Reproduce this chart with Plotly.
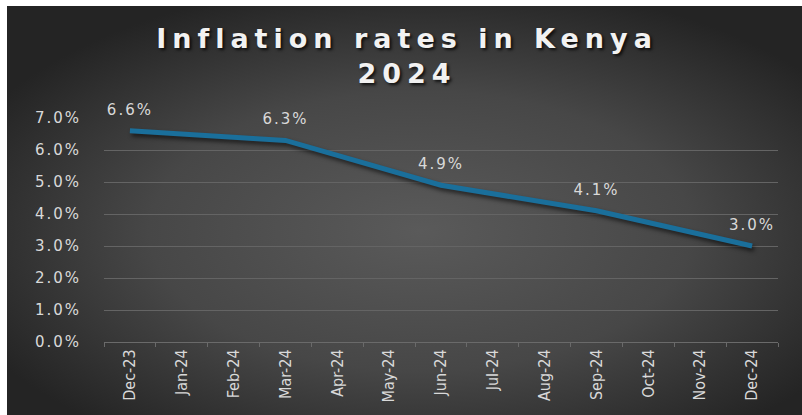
import base64
import plotly.graph_objects as go

# Monthly headline inflation (%), reported at quarterly points
months = ["Dec-23", "Jan-24", "Feb-24", "Mar-24", "Apr-24", "May-24", "Jun-24",
          "Jul-24", "Aug-24", "Sep-24", "Oct-24", "Nov-24", "Dec-24"]
inflation = [6.6, None, None, 6.3, None, None, 4.9, None, None, 4.1, None, None, 3.0]
y_ticks = [0, 1, 2, 3, 4, 5, 6, 7]

W, H = 802, 415
ML, MR, MT, MB = 104, 24, 118, 73
plot_w = W - ML - MR
plot_h = H - MT - MB

# dark radial backdrop for the chart area
svg = (
    '<svg xmlns="http://www.w3.org/2000/svg" width="795" height="409">'
    '<defs><radialGradient id="g" cx="52%" cy="55%" r="62%">'
    '<stop offset="0" stop-color="#5a5a5a"/>'
    '<stop offset="0.55" stop-color="#474747"/>'
    '<stop offset="1" stop-color="#242424"/>'
    '</radialGradient></defs>'
    '<rect width="795" height="409" fill="url(#g)"/></svg>'
)
bg_uri = "data:image/svg+xml;base64," + base64.b64encode(svg.encode()).decode()

labels = [f"{v:.1f}%" if v is not None else "" for v in inflation]

fig = go.Figure(
    go.Scatter(
        x=months,
        y=inflation,
        mode="lines+markers+text",
        connectgaps=True,
        line=dict(color="#1a6f9b", width=5),
        marker=dict(size=18, opacity=0, color="#1a6f9b"),
        text=labels,
        textposition="top center",
        textfont=dict(family="DejaVu Sans", size=15, color="#d9d9d9"),
        hoverinfo="skip",
        cliponaxis=False,
    )
)

fig.update_layout(
    width=W,
    height=H,
    margin=dict(l=ML, r=MR, t=MT, b=MB, autoexpand=False),
    paper_bgcolor="white",
    plot_bgcolor="rgba(0,0,0,0)",
    showlegend=False,
    title=dict(
        text="Inflation rates in Kenya<br>2024",
        x=407 / W,
        xanchor="center",
        xref="container",
        y=1 - 48 / H,
        yanchor="top",
        yref="container",
        font=dict(family="DejaVu Sans", size=27, color="#f2f2f2", weight="bold",
                  shadow="2px 2px 3px rgba(0,0,0,0.75)"),
    ),
    images=[dict(
        source=bg_uri,
        xref="paper", yref="paper",
        x=(7 - ML) / plot_w, y=(H - MB - 6) / plot_h,
        sizex=795 / plot_w, sizey=409 / plot_h,
        xanchor="left", yanchor="top",
        sizing="stretch", layer="below",
    )],
    xaxis=dict(
        type="category",
        range=[-0.5, len(months) - 0.5],
        tickangle=-90,
        tickson="boundaries",
        ticks="outside",
        ticklen=4,
        tickcolor="#6a6a6a",
        showline=True,
        linecolor="#6a6a6a",
        linewidth=1,
        showgrid=False,
        automargin=False,
        tickfont=dict(family="DejaVu Sans Condensed", size=16, color="#d9d9d9"),
        fixedrange=True,
    ),
    yaxis=dict(
        range=[0, 7],
        tickvals=y_ticks,
        ticktext=[f"{t:.1f}%" for t in y_ticks],
        showgrid=True,
        gridcolor="#646464",
        gridwidth=1,
        zeroline=False,
        ticks="",
        automargin=False,
        ticklabelstandoff=22,
        tickfont=dict(family="DejaVu Sans", size=15, color="#d9d9d9"),
        fixedrange=True,
    ),
)

# wide lettering for the title and value labels, soft shadow under the line
post = """
var gd = document.getElementById('{plot_id}');
function restyle() {
  gd.querySelectorAll('.gtitle').forEach(function (e) { e.style.letterSpacing = '6px'; });
  gd.querySelectorAll('.ytick text, .textpoint text').forEach(function (e) { e.style.letterSpacing = '2px'; });
  gd.querySelectorAll('.scatterlayer .js-line').forEach(function (e) {
    e.style.filter = 'drop-shadow(2px 3px 2px rgba(0,0,0,0.6))';
  });
}
restyle();
gd.on('plotly_afterplot', restyle);
"""

fig.write_html("out.html", post_script=post, config={"displayModeBar": False})
